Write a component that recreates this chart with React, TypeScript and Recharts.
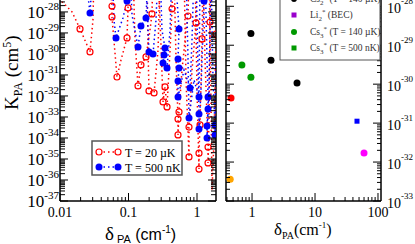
import React from 'react'
import { LineChart, Line, XAxis, YAxis, ReferenceLine, ScatterChart, Scatter } from 'recharts'

const SERIF = '"Liberation Serif", "Times New Roman", serif'
const SANS = '"Liberation Sans", Arial, sans-serif'

// values far above the frame, so the dotted lines leave through the top
const OFF = 1e-26

// T = 20 µK dips: [δ_PA (cm-1), K_PA (cm^5), marked]
const red1 = [[0.0104, OFF, 0], [0.0108, 3e-28, 0], [0.015, 1e-28, 0], [0.0196, 1.55e-29, 1], [0.0274, 1.25e-30, 1], [0.0303, 4.2e-29, 0], [0.0314, OFF, 0]]
const red2 = [[0.0519, OFF, 0], [0.0574, 1.9e-28, 1], [0.0574, 5.8e-29, 1], [0.0679, 8e-32, 1], [0.0778, 5.2e-31, 0], [0.0951, 5.8e-30, 1], [0.0984, 1.55e-28, 1], [0.1017, OFF, 0]]
const red3 = [[0.1164, OFF, 0], [0.1245, 4.6e-30, 0], [0.1376, 3e-32, 1], [0.152, 3e-31, 1], [0.18, 7.2e-31, 1], [0.206, 1.4e-29, 0], [0.22, 8e-29, 1], [0.228, OFF, 0]]
const red4 = [[0.186, OFF, 0], [0.193, 1.55e-30, 0], [0.199, 1.74e-32, 1], [0.236, 1.4e-32, 1], [0.27, 1.55e-30, 0], [0.288, OFF, 0]]
const red5 = [[0.27, OFF, 0], [0.298, 2.7e-30, 0], [0.319, 5.2e-33, 1], [0.341, 2.7e-32, 1], [0.365, 3e-33, 1], [0.404, 1.55e-30, 0], [0.432, 1.4e-28, 1], [0.447, OFF, 0]]
const red6 = [[0.461, OFF, 0], [0.494, 5.2e-31, 0], [0.528, 8e-34, 1], [0.528, 1.4e-34, 1], [0.546, 1.74e-33, 1], [0.604, 1.7e-31, 0], [0.691, 1.4e-29, 0], [0.739, 6.4e-29, 1], [0.764, OFF, 0]]
const red7 = [[0.646, OFF, 0], [0.691, 5.8e-32, 0], [0.764, 1.25e-35, 1], [0.764, 3.3e-34, 1], [0.845, 1.7e-31, 0], [0.966, 3e-29, 1], [1.0, OFF, 0]]
const red8 = [[0.935, OFF, 0], [1.0, 1.94e-32, 0], [1.069, 3.3e-36, 1], [1.069, 1.9e-35, 1], [1.106, 4.2e-34, 1], [1.183, 5.2e-30, 1], [1.224, OFF, 0]]
const red9 = [[1.224, OFF, 0], [1.309, 5.2e-31, 0], [1.448, 3.7e-35, 1], [1.448, 6.5e-36, 1], [1.496, 7.2e-34, 0], [1.548, 3.3e-29, 1], [1.6, OFF, 0]]
const red10 = [[1.496, OFF, 0], [1.6, 6.5e-33, 0], [1.656, 3.3e-37, 0], [1.77, 8e-35, 0], [1.893, 8.9e-30, 1]]

// T = 500 nK dips
const blue1 = [[0.0232, OFF, 0], [0.0274, 9e-29, 1], [0.0303, OFF, 0]]
const blue2 = [[0.0574, OFF, 0], [0.0614, 4.2e-29, 0], [0.0657, 5.8e-30, 1], [0.0831, 5.2e-29, 0], [0.0951, 3.3e-28, 1], [0.0984, OFF, 0]]
const blue3 = [[0.1052, OFF, 0], [0.1125, 7.2e-29, 0], [0.1376, 2.15e-30, 1], [0.152, 2.15e-29, 1], [0.18, 5.2e-29, 1], [0.193, OFF, 0]]
const blue4 = [[0.18, OFF, 0], [0.193, 1.4e-29, 0], [0.199, 1.25e-30, 1], [0.228, 1e-30, 1], [0.252, 4.2e-29, 0], [0.27, OFF, 0]]
const blue5 = [[0.288, OFF, 0], [0.308, 1.4e-29, 0], [0.341, 1.9e-30, 1], [0.33, 9e-31, 1], [0.319, 3.7e-31, 1], [0.365, 2.15e-31, 1], [0.404, 1.4e-29, 0], [0.432, OFF, 0]]
const blue6 = [[0.478, OFF, 0], [0.546, 1.55e-29, 1], [0.528, 5.8e-31, 1], [0.546, 2.15e-31, 1], [0.528, 5.2e-32, 1], [0.528, 8.9e-33, 1], [0.646, 1.7e-31, 0], [0.791, 2.4e-32, 1], [0.845, 4.6e-30, 0], [0.904, OFF, 0]]
const blue7 = [[0.691, OFF, 0], [0.739, 5.2e-31, 0], [0.764, 8.9e-34, 1], [0.904, 5.8e-32, 0], [1.069, 8.9e-33, 1], [1.106, OFF, 0]]
const blue8 = [[0.966, OFF, 0], [1.034, 1.7e-31, 0], [1.069, 1.4e-33, 1], [1.069, 2.7e-34, 1], [1.144, 1.94e-32, 0], [1.265, 3.3e-28, 1], [1.309, OFF, 0]]
const blue9 = [[1.309, OFF, 0], [1.4, 5.2e-31, 0], [1.448, 8.9e-33, 1], [1.448, 2.4e-33, 1], [1.4, 3.7e-34, 1], [1.4, 1e-34, 1], [1.496, 1.94e-32, 0], [1.6, OFF, 0]]
const blue10 = [[1.6, OFF, 0], [1.713, 5.8e-32, 0], [1.831, 4.2e-34, 1], [1.831, 1.4e-34, 1], [1.893, 5.2e-31, 0]]

const redDips = [red1, red2, red3, red4, red5, red6, red7, red8, red9, red10]
const blueDips = [blue1, blue2, blue3, blue4, blue5, blue6, blue7, blue8, blue9, blue10]

// right panel: other molecules
const cs2Hot = [{ x: 0.96, y: 2.0e-29 }, { x: 2.0, y: 4.1e-30 }, { x: 5.18, y: 1.07e-30 }]
const cs3Hot = [{ x: 0.69, y: 3.1e-30 }, { x: 0.96, y: 1.5e-30 }]
const redPoint = [{ x: 0.464, y: 4.4e-31 }]
const bluePoint = [{ x: 46.4, y: 1.12e-31 }]
const magentaPoint = [{ x: 60, y: 1.7e-32 }]
const orangePoint = [{ x: 0.45, y: 3.6e-33 }]

// axes
const LX = [0.01, 1.893]
const LY = [1e-37, 3.7e-28]
const leftXMajors = [0.01, 0.1, 1]
const leftXLabels = ['0.01', '0.1', '1']
const leftYExps = [-37, -36, -35, -34, -33, -32, -31, -30, -29, -28]

const RX = [0.386, 111.6]
const RY = [1e-33, 1.45e-28]
const rightXMajors = [1, 10, 100]
const rightXLabels = ['1', '10', '100']
const rightYExps = [-33, -32, -31, -30, -29, -28]

const LW = 156 // left plot width
const RW = 155 // right plot width

const withMinors = (majors: number[], dom: number[]) => {
  const out: number[] = []
  majors.forEach((m) => {
    for (let k = 1; k < 10; k++) {
      const v = Number((m * k).toPrecision(6))
      if (v >= dom[0] * 0.9999 && v <= dom[1] * 1.0001) out.push(v)
    }
  })
  const first = majors[0] / 10
  for (let k = 2; k < 10; k++) {
    const v = Number((first * k).toPrecision(6))
    if (v >= dom[0] * 0.9999 && v < majors[0]) out.push(v)
  }
  return out.sort((a, b) => a - b)
}

const leftXTicks = withMinors(leftXMajors, LX)
const leftYTicks = withMinors(leftYExps.map((e) => Number(`1e${e}`)), LY)
const rightXTicks = withMinors(rightXMajors, RX)
const rightYTicks = withMinors(rightYExps.map((e) => Number(`1e${e}`)), RY)

const isMajor = (v: number) => Math.abs(Math.log10(v) - Math.round(Math.log10(v))) < 1e-6

const toRows = (dips: number[][][]) => dips.flat().map(([x, y, m]) => ({ x, y, m }))
const redRows = toRows(redDips)
const blueRows = toRows(blueDips)

function LeftYTick(props: any) {
  const { x, y, payload } = props
  const v = payload.value
  const major = isMajor(v)
  const len = major ? 8 : 5
  return (
    <g>
      <line x1={x} x2={x + len} y1={y} y2={y} stroke="#000" strokeWidth={1} />
      <line x1={x + LW} x2={x + LW - len} y1={y} y2={y} stroke="#000" strokeWidth={1} />
      {major && (
        <text x={x - 1} y={y + 6} textAnchor="end" fontFamily={SERIF} fontSize={17} fill="#000">
          10<tspan fontSize={11} dy={-8}>{Math.round(Math.log10(v))}</tspan>
        </text>
      )}
    </g>
  )
}

function LeftXTick(props: any) {
  const { x, y, payload } = props
  const v = payload.value
  const major = isMajor(v)
  const idx = leftXMajors.findIndex((m) => Math.abs(m - v) / m < 1e-6)
  return (
    <g>
      <line x1={x} x2={x} y1={y} y2={y - (major ? 8 : 4)} stroke="#000" strokeWidth={1} />
      {idx >= 0 && (
        <text x={x} y={y + 16} textAnchor="middle" fontFamily={SERIF} fontSize={14} fill="#000">
          {leftXLabels[idx]}
        </text>
      )}
    </g>
  )
}

function RightYTick(props: any) {
  const { x, y, payload } = props
  const v = payload.value
  const major = isMajor(v)
  const len = major ? 8 : 4
  return (
    <g>
      <line x1={x} x2={x - len} y1={y} y2={y} stroke="#000" strokeWidth={1} />
      <line x1={x - RW} x2={x - RW + len} y1={y} y2={y} stroke="#000" strokeWidth={1} />
      {major && (
        <text x={x + 6} y={y + 7} textAnchor="start" fontFamily={SERIF} fontSize={14} fill="#000">
          10<tspan fontSize={9} dy={-9}>{Math.round(Math.log10(v))}</tspan>
        </text>
      )}
    </g>
  )
}

function RightXTick(props: any) {
  const { x, y, payload } = props
  const v = payload.value
  const major = isMajor(v)
  const idx = rightXMajors.findIndex((m) => Math.abs(m - v) / m < 1e-6)
  return (
    <g>
      <line x1={x} x2={x} y1={y} y2={y - (major ? 8 : 4)} stroke="#000" strokeWidth={1} />
      {idx >= 0 && (
        <text x={x} y={y + 16} textAnchor="middle" fontFamily={SERIF} fontSize={14} fill="#000">
          {rightXLabels[idx]}
        </text>
      )}
    </g>
  )
}

const redDot = (p: any) =>
  p.payload.m ? (
    <circle key={`r${p.index}`} cx={p.cx} cy={p.cy} r={3} fill="none" stroke="#ff0000" strokeWidth={1.2} />
  ) : (
    <g key={`r${p.index}`} />
  )

const blueDot = (p: any) =>
  p.payload.m ? (
    <circle key={`b${p.index}`} cx={p.cx} cy={p.cy} r={3.5} fill="#0000ff" />
  ) : (
    <g key={`b${p.index}`} />
  )

const circleShape = (color: string) => (p: any) => <circle cx={p.cx} cy={p.cy} r={3.5} fill={color} />
const squareShape = (color: string) => (p: any) => <rect x={p.cx - 2.5} y={p.cy - 2.5} width={5} height={5} fill={color} />

export default function App() {
  return (
    <div style={{ position: 'absolute', left: 0, top: 0, width: 415, height: 244, overflow: 'hidden', background: '#fff' }}>
      <div style={{ position: 'absolute', left: 0, top: 0 }}>
        <LineChart width={230} height={244} margin={{ top: 0, right: 14, bottom: 0, left: 0 }}>
          <XAxis
            dataKey="x"
            type="number"
            scale="log"
            domain={LX}
            allowDataOverflow
            ticks={leftXTicks}
            interval={0}
            tick={<LeftXTick />}
            tickLine={false}
            tickSize={0}
            tickMargin={0}
            height={43}
            axisLine={{ stroke: '#000', strokeWidth: 1.5 }}
          />
          <YAxis
            dataKey="y"
            type="number"
            scale="log"
            domain={LY}
            allowDataOverflow
            ticks={leftYTicks}
            interval={0}
            tick={<LeftYTick />}
            tickLine={false}
            tickSize={0}
            tickMargin={0}
            width={60}
            axisLine={{ stroke: '#000', strokeWidth: 1.5 }}
          />
          <ReferenceLine x={LX[1]} stroke="#000" strokeWidth={1.5} />
          <Line
            data={redRows}
            dataKey="y"
            stroke="#ff0000"
            strokeWidth={1.5}
            strokeDasharray="1.5 3"
            dot={redDot}
            activeDot={false}
            isAnimationActive={false}
          />
          <Line
            data={blueRows}
            dataKey="y"
            stroke="#0000ff"
            strokeWidth={1.5}
            strokeDasharray="1.5 3"
            dot={blueDot}
            activeDot={false}
            isAnimationActive={false}
          />
        </LineChart>
      </div>

      <div style={{ position: 'absolute', left: 200, top: 0 }}>
        <ScatterChart width={215} height={244} margin={{ top: 0, right: 0, bottom: 0, left: 26 }}>
          <XAxis
            dataKey="x"
            type="number"
            scale="log"
            domain={RX}
            allowDataOverflow
            ticks={rightXTicks}
            interval={0}
            tick={<RightXTick />}
            tickLine={false}
            tickSize={0}
            tickMargin={0}
            height={43}
            axisLine={{ stroke: '#000', strokeWidth: 1.5 }}
          />
          <YAxis
            dataKey="y"
            type="number"
            scale="log"
            orientation="right"
            domain={RY}
            allowDataOverflow
            ticks={rightYTicks}
            interval={0}
            tick={<RightYTick />}
            tickLine={false}
            tickSize={0}
            tickMargin={0}
            width={34}
            axisLine={{ stroke: '#000', strokeWidth: 1.5 }}
          />
          <ReferenceLine x={RX[0]} stroke="#000" strokeWidth={1.5} />
          <Scatter data={cs2Hot} fill="#000" shape={circleShape('#000')} isAnimationActive={false} />
          <Scatter data={cs3Hot} fill="#009900" shape={circleShape('#009900')} isAnimationActive={false} />
          <Scatter data={redPoint} fill="#ff0000" shape={circleShape('#ff0000')} isAnimationActive={false} />
          <Scatter data={bluePoint} fill="#0000ff" shape={squareShape('#0000ff')} isAnimationActive={false} />
          <Scatter data={magentaPoint} fill="#ff00ff" shape={circleShape('#ff00ff')} isAnimationActive={false} />
          <Scatter data={orangePoint} fill="#ffa500" shape={circleShape('#ffa500')} isAnimationActive={false} />
        </ScatterChart>
      </div>

      <svg width={415} height={244} style={{ position: 'absolute', left: 0, top: 0, pointerEvents: 'none' }}>
        {/* left y title */}
        <text transform="translate(18,110) rotate(-90)" fontFamily={SERIF} fontSize={19} fill="#000">
          K<tspan fontSize={12} dy={4}>PA</tspan>
          <tspan fontSize={19} dy={-4}> (cm</tspan>
          <tspan fontSize={12} dy={-7}>5</tspan>
          <tspan fontSize={19} dy={7}>)</tspan>
        </text>
        {/* left x title */}
        <text x={105} y={240} fill="#000">
          <tspan fontFamily={SERIF} fontSize={19}>δ</tspan>
          <tspan fontFamily={SANS} fontSize={11} dx={3} dy={3}>PA</tspan>
          <tspan fontFamily={SANS} fontSize={16} dy={-3}> (cm</tspan>
          <tspan fontFamily={SANS} fontSize={10} dy={-7}>-1</tspan>
          <tspan fontFamily={SANS} fontSize={16} dy={7}>)</tspan>
        </text>
        {/* right x title */}
        <text x={274} y={235} fontFamily={SERIF} fill="#000">
          <tspan fontSize={17}>δ</tspan>
          <tspan fontSize={10} dy={4}>PA</tspan>
          <tspan fontSize={16} dy={-4}>(cm</tspan>
          <tspan fontSize={9} dy={-7}>-1</tspan>
          <tspan fontSize={16} dy={7}>)</tspan>
        </text>

        {/* left legend */}
        <rect x={92} y={141} width={90} height={34} fill="#fff" stroke="#555" strokeWidth={1.5} />
        <line x1={99} x2={118} y1={152} y2={152} stroke="#ff0000" strokeWidth={1.5} strokeDasharray="1.5 3" />
        <circle cx={99} cy={152} r={3} fill="#fff" stroke="#ff0000" strokeWidth={1.2} />
        <circle cx={118} cy={152} r={3} fill="#fff" stroke="#ff0000" strokeWidth={1.2} />
        <text x={125} y={156.5} fontFamily={SERIF} fontSize={12} fill="#000">T = 20 µK</text>
        <line x1={99} x2={118} y1={167} y2={167} stroke="#0000ff" strokeWidth={1.5} strokeDasharray="1.5 3" />
        <circle cx={99} cy={167} r={3.5} fill="#0000ff" />
        <circle cx={118} cy={167} r={3.5} fill="#0000ff" />
        <text x={125} y={171.5} fontFamily={SERIF} fontSize={12} fill="#000">T = 500 nK</text>

        {/* right legend */}
        <rect x={280} y={-20} width={100} height={80} fill="#fff" stroke="#555" strokeWidth={1} />
        <circle cx={294} cy={-1} r={3} fill="#000" />
        <text x={310} y={2} fontFamily={SERIF} fontSize={9.5} fill="#333">
          Cs<tspan fontSize={7} dy={3}>2</tspan><tspan fontSize={7} dy={-7}>*</tspan><tspan fontSize={9.5} dy={4}> (T = 140 µK)</tspan>
        </text>
        <rect x={291.5} y={12.5} width={5} height={5} fill="#9900cc" />
        <text x={310} y={18} fontFamily={SERIF} fontSize={9.5} fill="#333">
          Li<tspan fontSize={7} dy={3}>2</tspan><tspan fontSize={7} dy={-7}>*</tspan><tspan fontSize={9.5} dy={4}> (BEC)</tspan>
        </text>
        <circle cx={294} cy={32} r={3} fill="#009900" />
        <text x={310} y={35} fontFamily={SERIF} fontSize={9.5} fill="#333">
          Cs<tspan fontSize={7} dy={3}>3</tspan><tspan fontSize={7} dy={-7}>*</tspan><tspan fontSize={9.5} dy={4}> (T = 140 µK)</tspan>
        </text>
        <rect x={291.5} y={45.5} width={5} height={5} fill="#009900" />
        <text x={310} y={51} fontFamily={SERIF} fontSize={9.5} fill="#333">
          Cs<tspan fontSize={7} dy={3}>3</tspan><tspan fontSize={7} dy={-7}>*</tspan><tspan fontSize={9.5} dy={4}> (T = 500 nK)</tspan>
        </text>
      </svg>
    </div>
  )
}
